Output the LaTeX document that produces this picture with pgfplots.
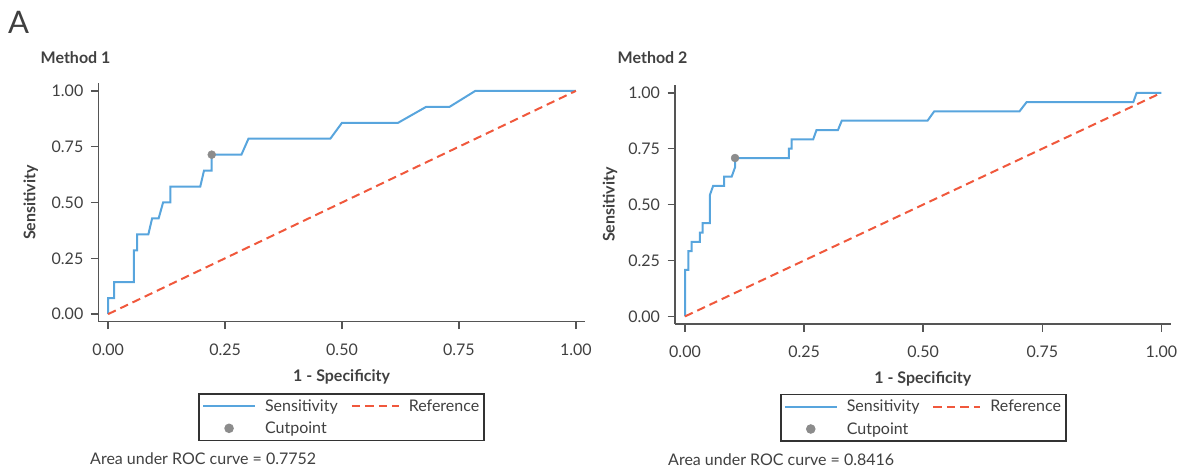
\documentclass[border=0pt]{standalone}
\usepackage{fontspec}
\setmainfont{Lato}
\usepackage{pgfplots}
\pgfplotsset{compat=1.18}
\definecolor{rocblue}{RGB}{88,165,221}
\definecolor{refred}{RGB}{240,88,60}
\definecolor{cutgray}{RGB}{140,140,140}
\definecolor{axgray}{RGB}{85,85,85}
\definecolor{txt}{RGB}{64,64,64}
\pgfplotsset{
 rocstyle/.style={
  scale only axis,
  xmin=-0.021, xmax=1.0195, ymin=-0.034, ymax=1.034,
  axis x line=bottom, axis y line=left,
  axis line style={-, draw=axgray, line width=1.5bp},
  tick align=outside,
  major tick length=7.5bp,
  tick style={draw=axgray, line width=1.5bp},
  xtick={0,0.25,0.5,0.75,1}, ytick={0,0.25,0.5,0.75,1},
  xticklabels={0.00,0.25,0.50,0.75,1.00},
  yticklabels={0.00,0.25,0.50,0.75,1.00},
  tick label style={font=\fontsize{16bp}{19bp}\selectfont, text=txt},
  xticklabel style={yshift=-11bp},
  yticklabel style={xshift=-4bp},
  label style={font=\bfseries\fontsize{16bp}{19bp}\selectfont, text=txt},
  legend style={font=\fontsize{16bp}{19bp}\selectfont, text=txt, draw=black!80, line width=1.5bp,
    anchor=north, inner xsep=3bp, inner ysep=3.5bp, row sep=5bp,
    /tikz/every odd column/.append style={column sep=7bp},
    /tikz/every even column/.append style={column sep=11bp}},
  legend columns=2,
  legend cell align=left,
  clip=false,
 },
 sensline/.style={rocblue, line width=2bp, legend image code/.code={\draw[##1] (0bp,0bp) -- (52bp,0bp);}},
 refline/.style={refred, line width=2bp, dash pattern=on 8.5bp off 5bp, legend image code/.code={\draw[##1] (0bp,0bp) -- (47bp,0bp);}},
 cutmark/.style={only marks, mark=*, mark size=4bp, draw=cutgray, fill=cutgray,
   legend image code/.code={\path[draw=none,fill=none] (0bp,0bp) -- (52bp,0bp); \draw[##1, only marks] plot coordinates {(26bp,0bp)};}},
}
\begin{document}
\begin{tikzpicture}
\path[use as bounding box] (0,0) rectangle (1182bp,471bp);
\node[anchor=base west, font=\fontsize{31bp}{36bp}\selectfont, text=txt, inner sep=0] at (8bp,437bp) {A};
\node[anchor=base west, font=\bfseries\fontsize{16bp}{19bp}\selectfont, text=txt, inner sep=0] at (40.5bp,407.7bp) {Method 1};
\node[anchor=base west, font=\bfseries\fontsize{16bp}{19bp}\selectfont, text=txt, inner sep=0] at (617.5bp,407.7bp) {Method 2};
\node[anchor=west, font=\fontsize{16bp}{19bp}\selectfont, text=txt, inner sep=0] at (90bp,12bp) {Area under ROC curve = 0.7752};
\node[anchor=west, font=\fontsize{16bp}{19bp}\selectfont, text=txt, inner sep=0] at (668bp,11bp) {Area under ROC curve = 0.8416};

\begin{axis}[rocstyle, at={(98.3bp,149.3bp)}, anchor=south west,
  width=486.7bp, height=238.4bp,
  xlabel={1 - Specificity}, ylabel={Sensitivity},
  xlabel style={at={(axis description cs:0.5,-0.232)}, anchor=center},
  ylabel style={at={(axis description cs:-0.139,0.5)}, anchor=center},
  legend style={at={(axis description cs:0.5,-0.3003)}},
]
\addplot[sensline] coordinates {
(0,0) (0,0.0714) (0.0128,0.0714) (0.0128,0.1429) (0.055,0.1429) (0.055,0.2857)
(0.062,0.2857) (0.062,0.3571) (0.086,0.3571) (0.094,0.4286) (0.108,0.4286)
(0.1175,0.5) (0.133,0.5) (0.133,0.5714) (0.197,0.5714) (0.205,0.6429)
(0.2215,0.6429) (0.2215,0.7143) (0.285,0.7143) (0.30,0.7857) (0.475,0.7857)
(0.5,0.8571) (0.62,0.8571) (0.68,0.9286) (0.73,0.9286) (0.785,1.0) (1,1)};
\addlegendentry{Sensitivity}
\addplot[refline] coordinates {(0,0) (1,1)};
\addlegendentry{Reference}
\addplot[cutmark] coordinates {(0.2215,0.7143)};
\addlegendentry{Cutpoint}
\end{axis}

\begin{axis}[rocstyle, at={(675bp,147bp)}, anchor=south west,
  width=495.7bp, height=238.8bp,
  xlabel={1 - Specificity}, ylabel={Sensitivity},
  xlabel style={at={(axis description cs:0.5,-0.231)}, anchor=center},
  ylabel style={at={(axis description cs:-0.131,0.5)}, anchor=center},
  legend style={at={(axis description cs:0.501,-0.293)}},
]
\addplot[sensline] coordinates {
(0,0) (0,0.2083) (0.007,0.2083) (0.007,0.2917) (0.014,0.2917) (0.014,0.3333)
(0.031,0.3333) (0.031,0.375) (0.037,0.375) (0.037,0.4167) (0.052,0.4167)
(0.052,0.5417) (0.059,0.5833) (0.082,0.5833) (0.082,0.625) (0.098,0.625)
(0.105,0.6667) (0.105,0.7083) (0.218,0.7083) (0.218,0.75) (0.224,0.75)
(0.224,0.7917) (0.269,0.7917) (0.276,0.8333) (0.321,0.8333) (0.329,0.875)
(0.509,0.875) (0.523,0.9167) (0.702,0.9167) (0.717,0.9583) (0.941,0.9583)
(0.948,1) (1,1)};
\addlegendentry{Sensitivity}
\addplot[refline] coordinates {(0,0) (1,1)};
\addlegendentry{Reference}
\addplot[cutmark] coordinates {(0.105,0.7083)};
\addlegendentry{Cutpoint}
\end{axis}
\end{tikzpicture}
\end{document}
